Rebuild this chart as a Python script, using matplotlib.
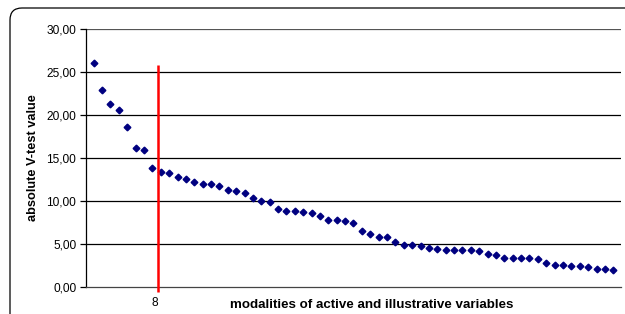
import matplotlib
matplotlib.use("Agg")
import matplotlib.pyplot as plt
from matplotlib.patches import FancyBboxPatch
import numpy as np

values = [26.1, 22.9, 21.35, 20.6, 18.67, 16.16, 15.96, 13.9, 13.44, 13.33,
          12.88, 12.59, 12.28, 12.0, 12.0, 11.79, 11.31, 11.23, 10.93, 10.4,
          10.07, 9.88, 9.12, 8.83, 8.83, 8.72, 8.64, 8.26, 7.86, 7.86,
          7.74, 7.51, 6.51, 6.23, 5.81, 5.81, 5.3, 4.97, 4.97, 4.78,
          4.58, 4.49, 4.39, 4.39, 4.39, 4.28, 4.19, 3.82, 3.72, 3.45,
          3.45, 3.45, 3.38, 3.3, 2.88, 2.62, 2.62, 2.52, 2.52, 2.32,
          2.12, 2.12, 2.02]
positions = list(range(1, len(values) + 1))
yticks = [0, 5, 10, 15, 20, 25, 30]
ytick_labels = ["0,00", "5,00", "10,00", "15,00", "20,00", "25,00", "30,00"]
cut_position = 8.7
cut_label = "8"
cut_top = 25.85
ylabel = "absolute V-test value"
xlabel = "modalities of active and illustrative variables"

plt.rcParams['font.family'] = ['Liberation Sans', 'DejaVu Sans']

W, H = 625, 314
fig = plt.figure(figsize=(W / 100, H / 100), dpi=100)

# outer rounded frame
frame = FancyBboxPatch((0.10, -0.3), 6.30, 3.06 + 0.3,
                       boxstyle="round,pad=0,rounding_size=0.12",
                       transform=fig.dpi_scale_trans, facecolor="none",
                       edgecolor="black", linewidth=0.9)
fig.patches.append(frame)

ax = fig.add_axes([86 / W, (H - 287.3) / H, (621 - 86) / W, (287.3 - 29.3) / H])
ax.set_xlim(0.08, 63.92)
ax.set_ylim(0, 30)

for y in yticks[1:]:
    ax.axhline(y, color="black" if y < 30 else "#555555", lw=0.9, zorder=1)

ax.plot(positions, values, linestyle="none", marker="D", ms=3.4,
        color="#000080", zorder=3)

ax.plot([cut_position, cut_position], [-0.5, cut_top], color="#ff0000",
        lw=1.8, zorder=4, clip_on=False, solid_capstyle="butt")

for s in ["top", "right"]:
    ax.spines[s].set_visible(False)
ax.spines["left"].set_color("black")
ax.spines["left"].set_linewidth(0.9)
ax.spines["bottom"].set_color("#444444")
ax.spines["bottom"].set_linewidth(0.9)

ax.set_yticks(yticks)
ax.set_yticklabels(ytick_labels)
ax.tick_params(axis="y", direction="out", length=4, width=0.9, pad=3,
               labelsize=8.6, colors="black")
ax.set_xticks([])

ax.text(cut_position - 0.4, -1.1, cut_label, ha="center", va="top",
        fontsize=8.6, transform=ax.transData)

fig.text(33 / W, (H - 158) / H, ylabel, rotation=90, ha="center", va="center",
         fontsize=9.2, fontweight="bold")
fig.text(372 / W, (H - 305) / H, xlabel, ha="center", va="center",
         fontsize=9.6, fontweight="bold")

fig.savefig("out.png", dpi=100, facecolor="white")
